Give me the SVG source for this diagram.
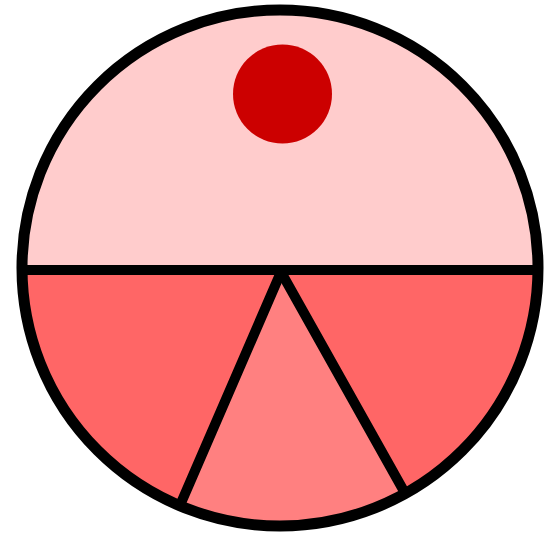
<svg xmlns="http://www.w3.org/2000/svg" width="544" height="540" viewBox="0 0 544 540">
<defs>
<clipPath id="c"><circle cx="280" cy="268" r="258"/></clipPath>
<style>.ln{stroke:#000;stroke-width:10;fill:none;stroke-linecap:round}</style>
</defs>
<rect width="544" height="540" fill="#fff"/>
<g clip-path="url(#c)">
<rect x="0" y="0" width="544" height="540" fill="#FF6666"/>
<rect x="0" y="0" width="544" height="270" fill="#FFCCCC"/>
<polygon points="281,272 170,530 420,530" fill="#FF8080"/>
</g>
<circle cx="282.5" cy="94" r="49.5" fill="#CC0000"/>
<g clip-path="url(#c)">
<line class="ln" x1="0" y1="270" x2="544" y2="270"/>
<line class="ln" x1="281" y1="272" x2="178" y2="510"/>
<line class="ln" x1="281" y1="272" x2="410" y2="502"/>
</g>
<circle cx="280" cy="268" r="258" fill="none" stroke="#000" stroke-width="11"/>
</svg>
